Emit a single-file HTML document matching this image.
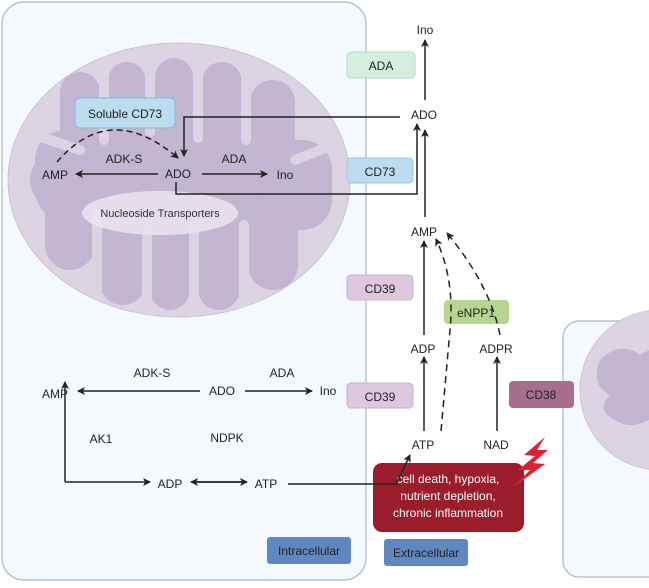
<!DOCTYPE html>
<html><head><style>
body{margin:0;background:#fff}
svg text{font-family:"Liberation Sans",sans-serif;fill:#222}
</style></head><body>
<svg width="649" height="583" viewBox="0 0 649 583" xmlns="http://www.w3.org/2000/svg">
<defs>
<marker id="a" markerWidth="8" markerHeight="8" refX="7" refY="4" orient="auto" markerUnits="userSpaceOnUse"><path d="M0,0 L8,4 L0,8 L2,4z" fill="#222"/></marker>
<clipPath id="mc"><ellipse cx="179" cy="180" rx="171" ry="137"/></clipPath>
</defs>
<rect x="2" y="2" width="364" height="578" rx="22" fill="#f3f9fd" stroke="#a9b8c8" stroke-width="1.2"/>
<rect x="563" y="321" width="110" height="256" rx="16" fill="#f3f9fd" stroke="#a9b8c8" stroke-width="1.2"/>
<circle cx="660" cy="390" r="80" fill="#ddd4e3" stroke="#cdc3d6"/>
<path d="M600,360 Q620,340 640,355 L649,350 L649,420 Q630,430 615,420 Q595,410 610,395 Q590,385 600,360z" fill="#c3b6d1"/>
<ellipse cx="179" cy="180" rx="171" ry="137" fill="#ddd4e3" stroke="#cbc0d5"/>
<g clip-path="url(#mc)">
<g fill="#c3b6d1">
<ellipse cx="180" cy="180" rx="150" ry="65"/>
<rect x="60" y="72" width="40" height="110" rx="20"/>
<rect x="108" y="62" width="38" height="110" rx="19"/>
<rect x="155" y="58" width="38" height="110" rx="19"/>
<rect x="202" y="62" width="40" height="110" rx="20"/>
<rect x="250" y="80" width="45" height="110" rx="22"/>
<rect x="35" y="130" width="60" height="90" rx="30"/>
<rect x="270" y="140" width="62" height="90" rx="30"/>
<rect x="45" y="190" width="50" height="80" rx="25"/>
<rect x="100" y="190" width="45" height="115" rx="22"/>
<rect x="150" y="190" width="40" height="120" rx="20"/>
<rect x="198" y="190" width="42" height="120" rx="21"/>
<rect x="248" y="190" width="50" height="100" rx="25"/>
</g>
<g stroke="#ddd4e3" stroke-width="10" stroke-linecap="round" fill="none">
<path d="M104,60 V140"/><path d="M150,55 V132"/><path d="M198,55 V138"/><path d="M246,62 V140"/>
<path d="M97,320 V215"/><path d="M147,320 V235"/><path d="M194,320 V230"/><path d="M244,320 V225"/>
<path d="M20,130 L80,150"/><path d="M345,140 L295,160"/>
</g>
</g>
<ellipse cx="160" cy="213" rx="78" ry="22" fill="#e9e3ee" opacity="0.9"/>
<g font-size="11">
<rect x="347" y="52" width="68" height="26" rx="4" fill="#d4eedf" stroke="#b9d9c6"/><text x="381" y="70" text-anchor="middle" font-size="12">ADA</text>
<rect x="347" y="158" width="66" height="25" rx="4" fill="#bcdcef" stroke="#9fc3de"/><text x="380" y="176" text-anchor="middle" font-size="12">CD73</text>
<rect x="347" y="275" width="66" height="25" rx="4" fill="#ddc8e0" stroke="#c8b0cd"/><text x="380" y="293" text-anchor="middle" font-size="12">CD39</text>
<rect x="347" y="383" width="66" height="25" rx="4" fill="#ddc8e0" stroke="#c8b0cd"/><text x="380" y="401" text-anchor="middle" font-size="12">CD39</text>
<rect x="444" y="300" width="65" height="24" rx="4" fill="#b8d58f"/><text x="476" y="317" text-anchor="middle" font-size="12">eNPP1</text>
<rect x="509" y="381" width="65" height="27" rx="4" fill="#a86f8c"/><text x="541" y="399" text-anchor="middle" font-size="12">CD38</text>
<rect x="75" y="98" width="100" height="30" rx="5" fill="#bcdcef" stroke="#8fb6d6"/><text x="125" y="118" text-anchor="middle" font-size="12">Soluble CD73</text>
<rect x="373" y="463" width="151" height="69" rx="9" fill="#9b1c2a"/>
<text x="448" y="483" text-anchor="middle" font-size="12" style="fill:#fff">cell death, hypoxia,</text>
<text x="448" y="500" text-anchor="middle" font-size="12" style="fill:#fff">nutrient depletion,</text>
<text x="448" y="517" text-anchor="middle" font-size="12" style="fill:#fff">chronic inflammation</text>
<rect x="267" y="537" width="84" height="27" rx="3" fill="#6088c0"/><text x="309" y="555" text-anchor="middle" font-size="12">Intracellular</text>
<rect x="384" y="539" width="84" height="27" rx="3" fill="#6088c0"/><text x="426" y="557" text-anchor="middle" font-size="12">Extracellular</text>
<path d="M545,437 L524,455 L535,456 L518,470 L530,470 L512,488 L545,464 L533,463 L548,450 L537,450 Z" fill="#e02030"/>
</g>
<g font-size="12" text-anchor="middle">
<text x="425" y="34">Ino</text><text x="424" y="119">ADO</text><text x="424" y="236">AMP</text>
<text x="423" y="353">ADP</text><text x="496" y="353">ADPR</text><text x="423" y="449">ATP</text><text x="496" y="449">NAD</text>
<text x="55" y="179">AMP</text><text x="178" y="178">ADO</text><text x="285" y="179">Ino</text>
<text x="124" y="163">ADK-S</text><text x="234" y="163">ADA</text>
<text x="160" y="217" font-size="11" style="fill:#333">Nucleoside Transporters</text>
<text x="55" y="398">AMP</text><text x="222" y="395">ADO</text><text x="328" y="395">Ino</text>
<text x="152" y="377">ADK-S</text><text x="282" y="377">ADA</text>
<text x="101" y="443">AK1</text><text x="227" y="442">NDPK</text><text x="170" y="488">ADP</text><text x="266" y="488">ATP</text>
</g>
<g stroke="#222" stroke-width="1.5" fill="none">
<path d="M425,100 V40" marker-end="url(#a)"/>
<path d="M425,217 V130" marker-end="url(#a)"/>
<path d="M424,335 V241" marker-end="url(#a)"/>
<path d="M424,431 V357" marker-end="url(#a)"/>
<path d="M497,431 V357" marker-end="url(#a)"/>
<path d="M400,117 H184 V156" marker-end="url(#a)"/>
<path d="M176,182 V194 H417 V124" marker-end="url(#a)"/>
<path d="M158,174 H76" marker-end="url(#a)"/>
<path d="M202,174 H267" marker-end="url(#a)"/>
<path d="M200,391 H78" marker-end="url(#a)"/>
<path d="M245,391 H312" marker-end="url(#a)"/>
<path d="M65,482 V382" marker-end="url(#a)"/>
<path d="M65,482 H150" marker-end="url(#a)"/>
<path d="M193,482 H247" marker-end="url(#a)"/>
<path d="M245,482 H191" marker-end="url(#a)"/>
<path d="M288,484 H396 L410,455" marker-end="url(#a)"/>
<path d="M57,162 Q110,100 178,158" stroke-dasharray="6,4" marker-end="url(#a)"/>
<path d="M441,431 L450,330 Q455,280 436,239" stroke-dasharray="7,5" marker-end="url(#a)"/>
<path d="M500,335 Q490,285 447,233" stroke-dasharray="7,5" marker-end="url(#a)"/>
</g>
</svg>
</body></html>
